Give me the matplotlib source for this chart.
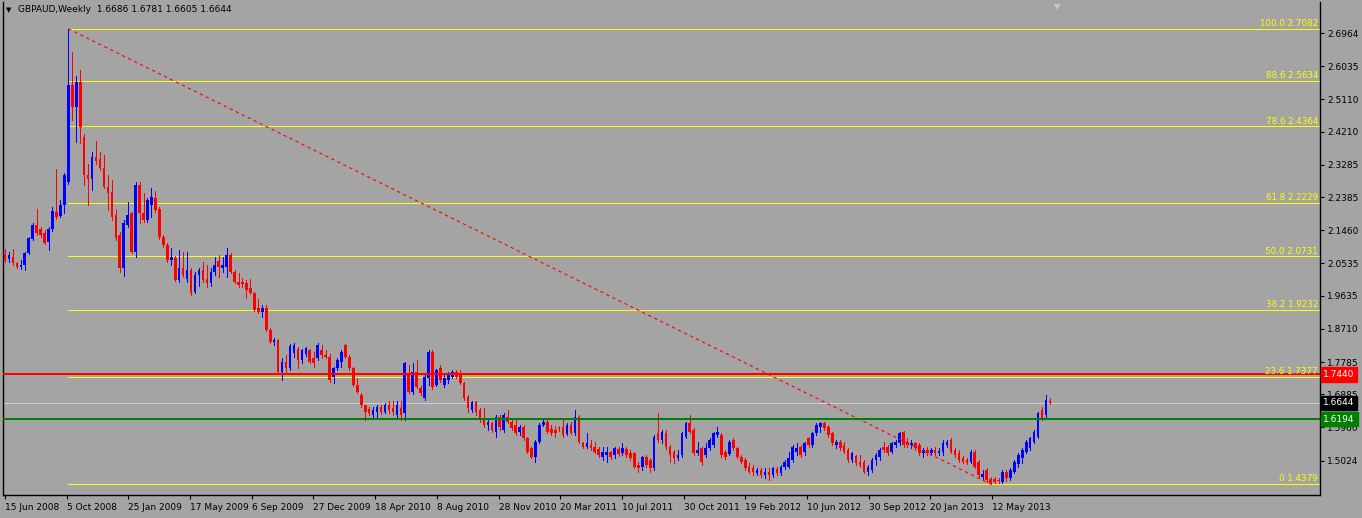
import matplotlib
matplotlib.use("Agg")
import matplotlib.pyplot as plt
import matplotlib.transforms as mtransforms
import numpy as np

# ---------------- data ----------------
title_text = "GBPAUD,Weekly  1.6686 1.6781 1.6605 1.6644"

opens = [2.080, 2.066, 2.071, 2.055, 2.044, 2.049, 2.083, 2.122, 2.161, 2.150,
         2.138, 2.113, 2.150, 2.197, 2.186, 2.217, 2.281, 2.551, 2.490, 2.560,
         2.406, 2.300, 2.290, 2.350, 2.345, 2.320, 2.267, 2.253, 2.189, 2.133,
         2.041, 2.161, 2.194, 2.085, 2.272, 2.194, 2.175, 2.217, 2.236, 2.205,
         2.127, 2.105, 2.063, 2.069, 2.007, 2.041, 2.010, 2.035, 1.974, 2.021,
         2.035, 2.010, 1.999, 2.030, 2.060, 2.041, 2.044, 2.077, 2.030, 2.002,
         2.002, 1.999, 1.985, 1.971, 1.929, 1.918, 1.929, 1.868, 1.834, 1.840,
         1.751, 1.779, 1.762, 1.805, 1.815, 1.784, 1.800, 1.812, 1.790, 1.790,
         1.812, 1.798, 1.793, 1.736, 1.762, 1.779, 1.826, 1.793, 1.762, 1.714,
         1.687, 1.659, 1.648, 1.631, 1.639, 1.653, 1.639, 1.659, 1.650, 1.631,
         1.650, 1.636, 1.748, 1.695, 1.751, 1.706, 1.678, 1.734, 1.806, 1.714,
         1.762, 1.714, 1.728, 1.737, 1.751, 1.748, 1.720, 1.681, 1.645, 1.667,
         1.645, 1.622, 1.603, 1.609, 1.584, 1.625, 1.589, 1.625, 1.611, 1.603,
         1.584, 1.597, 1.567, 1.539, 1.514, 1.555, 1.603, 1.611, 1.592, 1.589,
         1.595, 1.597, 1.578, 1.603, 1.581, 1.625, 1.552, 1.541, 1.547, 1.541,
         1.536, 1.514, 1.519, 1.527, 1.519, 1.536, 1.525, 1.536, 1.525, 1.525,
         1.491, 1.486, 1.514, 1.505, 1.483, 1.581, 1.561, 1.581, 1.541, 1.527,
         1.511, 1.519, 1.569, 1.608, 1.589, 1.525, 1.539, 1.519, 1.539, 1.547,
         1.575, 1.575, 1.527, 1.522, 1.561, 1.539, 1.514, 1.505, 1.486, 1.483,
         1.469, 1.477, 1.463, 1.472, 1.463, 1.480, 1.469, 1.486, 1.486, 1.505,
         1.527, 1.541, 1.527, 1.566, 1.547, 1.581, 1.597, 1.608, 1.597, 1.581,
         1.547, 1.555, 1.547, 1.533, 1.505, 1.516, 1.500, 1.500, 1.472, 1.477,
         1.505, 1.514, 1.541, 1.541, 1.527, 1.547, 1.553, 1.584, 1.555, 1.547,
         1.553, 1.547, 1.525, 1.533, 1.525, 1.533, 1.525, 1.527, 1.547, 1.561,
         1.533, 1.525, 1.511, 1.505, 1.500, 1.527, 1.500, 1.458, 1.477, 1.452,
         1.452, 1.450, 1.444, 1.472, 1.455, 1.472, 1.494, 1.511, 1.527, 1.539,
         1.555, 1.569, 1.645, 1.631, 1.6686]
highs = [2.095, 2.085, 2.094, 2.058, 2.063, 2.086, 2.128, 2.166, 2.205, 2.155,
         2.147, 2.155, 2.211, 2.317, 2.230, 2.306, 2.7082, 2.643, 2.576, 2.593,
         2.415, 2.330, 2.364, 2.395, 2.364, 2.356, 2.300, 2.286, 2.203, 2.140,
         2.175, 2.225, 2.197, 2.281, 2.281, 2.250, 2.236, 2.264, 2.256, 2.210,
         2.133, 2.110, 2.097, 2.075, 2.091, 2.085, 2.085, 2.041, 2.030, 2.041,
         2.058, 2.049, 2.041, 2.071, 2.077, 2.071, 2.097, 2.083, 2.035, 2.027,
         2.013, 2.007, 2.010, 1.974, 1.954, 1.938, 1.938, 1.874, 1.845, 1.843,
         1.790, 1.798, 1.830, 1.832, 1.820, 1.815, 1.820, 1.815, 1.806, 1.832,
         1.826, 1.812, 1.800, 1.765, 1.790, 1.812, 1.829, 1.798, 1.765, 1.734,
         1.692, 1.660, 1.653, 1.653, 1.659, 1.659, 1.664, 1.670, 1.670, 1.670,
         1.670, 1.778, 1.770, 1.776, 1.784, 1.712, 1.748, 1.812, 1.812, 1.760,
         1.770, 1.748, 1.751, 1.756, 1.756, 1.756, 1.723, 1.686, 1.670, 1.670,
         1.650, 1.650, 1.622, 1.611, 1.631, 1.631, 1.636, 1.645, 1.620, 1.620,
         1.603, 1.603, 1.569, 1.541, 1.561, 1.608, 1.617, 1.620, 1.603, 1.600,
         1.600, 1.620, 1.608, 1.610, 1.645, 1.631, 1.555, 1.581, 1.561, 1.555,
         1.541, 1.541, 1.541, 1.530, 1.541, 1.541, 1.553, 1.541, 1.533, 1.527,
         1.500, 1.516, 1.519, 1.511, 1.575, 1.636, 1.589, 1.590, 1.547, 1.533,
         1.533, 1.584, 1.611, 1.631, 1.595, 1.555, 1.541, 1.553, 1.566, 1.584,
         1.597, 1.581, 1.533, 1.561, 1.566, 1.541, 1.519, 1.511, 1.497, 1.491,
         1.483, 1.483, 1.483, 1.483, 1.486, 1.486, 1.491, 1.505, 1.527, 1.547,
         1.553, 1.547, 1.555, 1.569, 1.584, 1.608, 1.611, 1.611, 1.603, 1.584,
         1.561, 1.561, 1.555, 1.539, 1.527, 1.519, 1.519, 1.505, 1.491, 1.511,
         1.525, 1.539, 1.555, 1.547, 1.555, 1.561, 1.584, 1.587, 1.566, 1.561,
         1.555, 1.553, 1.539, 1.541, 1.539, 1.541, 1.539, 1.561, 1.561, 1.566,
         1.539, 1.533, 1.516, 1.511, 1.533, 1.533, 1.505, 1.477, 1.483, 1.458,
         1.458, 1.456, 1.477, 1.477, 1.483, 1.505, 1.525, 1.539, 1.561, 1.569,
         1.589, 1.639, 1.653, 1.686, 1.6781]
lows = [2.058, 2.058, 2.049, 2.041, 2.038, 2.035, 2.080, 2.118, 2.133, 2.127,
        2.108, 2.091, 2.144, 2.177, 2.183, 2.194, 2.275, 2.454, 2.392, 2.390,
        2.272, 2.217, 2.258, 2.330, 2.314, 2.264, 2.203, 2.175, 2.120, 2.030,
        2.018, 2.155, 2.083, 2.071, 2.166, 2.169, 2.170, 2.183, 2.197, 2.122,
        2.100, 2.058, 2.049, 2.004, 2.002, 2.016, 2.002, 1.966, 1.970, 1.990,
        2.002, 1.988, 1.990, 2.021, 2.016, 2.030, 2.016, 2.027, 1.999, 1.988,
        1.988, 1.957, 1.968, 1.921, 1.916, 1.904, 1.866, 1.832, 1.826, 1.746,
        1.728, 1.751, 1.757, 1.793, 1.762, 1.776, 1.795, 1.776, 1.765, 1.785,
        1.790, 1.790, 1.723, 1.720, 1.756, 1.765, 1.790, 1.756, 1.712, 1.692,
        1.653, 1.617, 1.631, 1.623, 1.625, 1.634, 1.636, 1.636, 1.631, 1.625,
        1.617, 1.617, 1.692, 1.690, 1.706, 1.686, 1.672, 1.714, 1.703, 1.712,
        1.723, 1.709, 1.720, 1.734, 1.734, 1.718, 1.672, 1.639, 1.640, 1.631,
        1.612, 1.598, 1.589, 1.584, 1.570, 1.589, 1.584, 1.609, 1.589, 1.575,
        1.575, 1.561, 1.525, 1.511, 1.500, 1.552, 1.600, 1.581, 1.575, 1.570,
        1.586, 1.570, 1.575, 1.578, 1.575, 1.552, 1.539, 1.539, 1.533, 1.525,
        1.514, 1.505, 1.500, 1.508, 1.511, 1.517, 1.519, 1.514, 1.505, 1.483,
        1.472, 1.477, 1.486, 1.472, 1.477, 1.555, 1.552, 1.536, 1.500, 1.497,
        1.505, 1.514, 1.566, 1.581, 1.519, 1.519, 1.491, 1.514, 1.533, 1.541,
        1.569, 1.514, 1.508, 1.519, 1.533, 1.511, 1.497, 1.477, 1.469, 1.463,
        1.463, 1.458, 1.455, 1.449, 1.458, 1.463, 1.463, 1.480, 1.483, 1.500,
        1.519, 1.514, 1.519, 1.541, 1.541, 1.575, 1.584, 1.589, 1.570, 1.547,
        1.539, 1.533, 1.525, 1.500, 1.500, 1.491, 1.486, 1.469, 1.463, 1.472,
        1.491, 1.505, 1.527, 1.519, 1.525, 1.541, 1.547, 1.541, 1.541, 1.539,
        1.533, 1.519, 1.514, 1.519, 1.519, 1.519, 1.519, 1.519, 1.541, 1.525,
        1.514, 1.500, 1.497, 1.494, 1.497, 1.483, 1.458, 1.449, 1.444, 1.4379,
        1.441, 1.440, 1.441, 1.446, 1.449, 1.469, 1.486, 1.497, 1.525, 1.533,
        1.552, 1.566, 1.617, 1.622, 1.6605]
closes = [2.063, 2.077, 2.055, 2.044, 2.050, 2.083, 2.124, 2.161, 2.139, 2.133,
          2.111, 2.150, 2.200, 2.183, 2.217, 2.300, 2.551, 2.490, 2.560, 2.434,
          2.300, 2.290, 2.350, 2.340, 2.320, 2.267, 2.250, 2.183, 2.125, 2.041,
          2.166, 2.189, 2.085, 2.272, 2.194, 2.175, 2.230, 2.239, 2.203, 2.127,
          2.105, 2.063, 2.071, 2.007, 2.041, 2.021, 2.035, 1.971, 2.021, 2.035,
          2.007, 1.999, 2.030, 2.049, 2.044, 2.049, 2.077, 2.030, 2.002, 1.993,
          1.996, 1.979, 1.971, 1.924, 1.918, 1.929, 1.868, 1.834, 1.840, 1.751,
          1.779, 1.762, 1.823, 1.826, 1.784, 1.812, 1.818, 1.779, 1.776, 1.826,
          1.798, 1.793, 1.728, 1.762, 1.784, 1.806, 1.793, 1.762, 1.714, 1.695,
          1.659, 1.639, 1.636, 1.645, 1.653, 1.639, 1.659, 1.645, 1.639, 1.659,
          1.631, 1.776, 1.695, 1.751, 1.709, 1.692, 1.737, 1.806, 1.709, 1.756,
          1.728, 1.734, 1.748, 1.751, 1.737, 1.720, 1.678, 1.650, 1.667, 1.639,
          1.617, 1.603, 1.611, 1.589, 1.625, 1.597, 1.631, 1.611, 1.594, 1.581,
          1.597, 1.567, 1.527, 1.514, 1.555, 1.603, 1.611, 1.584, 1.581, 1.581,
          1.592, 1.575, 1.603, 1.581, 1.625, 1.555, 1.541, 1.552, 1.539, 1.527,
          1.519, 1.527, 1.527, 1.514, 1.539, 1.522, 1.539, 1.519, 1.511, 1.486,
          1.483, 1.514, 1.491, 1.483, 1.569, 1.561, 1.584, 1.541, 1.519, 1.511,
          1.519, 1.581, 1.608, 1.584, 1.525, 1.533, 1.500, 1.539, 1.561, 1.581,
          1.584, 1.519, 1.514, 1.555, 1.539, 1.514, 1.500, 1.483, 1.472, 1.472,
          1.477, 1.463, 1.472, 1.463, 1.483, 1.469, 1.486, 1.500, 1.511, 1.541,
          1.539, 1.519, 1.553, 1.547, 1.581, 1.603, 1.608, 1.595, 1.575, 1.553,
          1.555, 1.539, 1.527, 1.505, 1.525, 1.497, 1.491, 1.472, 1.486, 1.505,
          1.519, 1.533, 1.533, 1.525, 1.553, 1.555, 1.581, 1.547, 1.547, 1.553,
          1.539, 1.525, 1.533, 1.525, 1.533, 1.525, 1.530, 1.553, 1.555, 1.527,
          1.519, 1.505, 1.500, 1.497, 1.527, 1.486, 1.463, 1.466, 1.449, 1.441,
          1.444, 1.446, 1.472, 1.455, 1.477, 1.500, 1.519, 1.533, 1.555, 1.566,
          1.584, 1.636, 1.622, 1.672, 1.6644]

date_labels = ["15 Jun 2008", "5 Oct 2008", "25 Jan 2009", "17 May 2009",
               "6 Sep 2009", "27 Dec 2009", "18 Apr 2010", "8 Aug 2010",
               "28 Nov 2010", "20 Mar 2011", "10 Jul 2011", "30 Oct 2011",
               "19 Feb 2012", "10 Jun 2012", "30 Sep 2012", "20 Jan 2013",
               "12 May 2013"]
weeks_per_label = 16
weeks_span = 271          # weeks from first to last bar

price_ticks = [2.6964, 2.6035, 2.5110, 2.4210, 2.3285, 2.2385, 2.1460,
               2.0535, 1.9635, 1.8710, 1.7785, 1.6885, 1.5960, 1.5024]
fib_ratios = [0.0, 23.6, 38.2, 50.0, 61.8, 78.6, 88.6, 100.0]
resistance_level = 1.7440
support_level = 1.6194

# ---------------- figure ----------------
W, H = 1362, 518
BG = "#a4a4a4"
fig = plt.figure(figsize=(W / 100, H / 100), dpi=100)
fig.patch.set_facecolor(BG)

def px_box(x0, y0, x1, y1):
    return [x0 / W, 1 - y1 / H, (x1 - x0) / W, (y1 - y0) / H]

ax = fig.add_axes(px_box(3, 2, 1320, 495))
ax.set_facecolor(BG)

o = np.array(opens); h = np.array(highs); l = np.array(lows); c = np.array(closes)
n = len(c)
xs = np.arange(n) * weeks_span / (n - 1)

up = c >= o
colors = np.where(up, "#0000ff", "#ff0000")

ONE_PX = 0.72  # points

# wicks
ax.vlines(xs, l, h, colors=colors, linewidth=ONE_PX, zorder=3,
          antialiased=False)
# bodies
body_bottom = np.minimum(o, c)
body_height = np.maximum(np.abs(c - o), 0.002)
ax.bar(xs, body_height, bottom=body_bottom, width=0.68, color=colors,
       linewidth=0, zorder=4, antialiased=False)

# limits (pixel mapping of the reference)
px_per_week = 3.856
ax.set_xlim(-2 / px_per_week, (1320 - 5) / px_per_week)
ax.set_ylim(1.4075, 2.783)

# fibonacci levels
i_hi = int(np.argmax(h)); i_lo = int(np.argmin(l))
hi = h[i_hi]; lo = l[i_lo]
trans_axy = mtransforms.blended_transform_factory(ax.transAxes, ax.transData)
for r in fib_ratios:
    lev = lo + (hi - lo) * r / 100.0
    ax.hlines(lev, xs[i_hi], ax.get_xlim()[1], color="#ffff00",
              linewidth=ONE_PX, zorder=2, antialiased=False)
    lab = ("0" if r == 0 else f"{r:.1f}") + f" {lev:.4f}"
    ax.text(0.9985, lev + 0.002, lab, transform=trans_axy, ha="right",
            va="bottom", color="#ffff00", fontsize=6.3, zorder=6)

# trend line (dashed red) from high to low
ax.plot([xs[i_hi], xs[i_lo]], [hi, lo], color="#ff0000", linewidth=0.8,
        linestyle=(0, (3, 3)), zorder=5)

# horizontal lines
ax.axhline(resistance_level, color="#ff0000", linewidth=1.44, zorder=5)
ax.axhline(support_level, color="#008000", linewidth=1.44, zorder=5)
ax.axhline(c[-1], color="#cfcfcf", linewidth=ONE_PX, zorder=1,
           antialiased=False)

# axes styling
ax.spines["top"].set_visible(False)
for side in ["left", "bottom", "right"]:
    ax.spines[side].set_color("black")
    ax.spines[side].set_linewidth(1.0)

ax.yaxis.tick_right()
ax.set_yticks(price_ticks)
ax.set_yticklabels([f"{v:.4f}" for v in price_ticks])
ax.tick_params(axis="y", length=3, width=0.8, pad=2, labelsize=6.5,
               colors="black", direction="out")

tick_pos = [k * weeks_per_label for k in range(len(date_labels))]
ax.set_xticks(tick_pos)
ax.set_xticklabels(date_labels)
ax.tick_params(axis="x", length=3, width=0.8, pad=3, labelsize=6.5,
               colors="black", direction="out")
for lbl in ax.get_xticklabels():
    lbl.set_ha("left")

# price label boxes on the right axis
def price_box(val, face):
    ax.text(1.0025, val, f"{val:.4f}", transform=trans_axy, ha="left",
            va="center", color="white", fontsize=6.5, zorder=10,
            clip_on=False,
            bbox=dict(boxstyle="square,pad=0.3", facecolor=face,
                      edgecolor=face))

price_box(resistance_level, "#ff0000")
price_box(c[-1], "#000000")
price_box(support_level, "#008000")

# title
fig.text(6 / W, 1 - 10 / H, "\u25bc", fontsize=5, color="black",
         va="center", ha="left")
fig.text(18 / W, 1 - 10 / H, title_text, fontsize=6.5, color="black",
         va="center", ha="left")
# chart shift marker
fig.text(1057 / W, 1 - 7 / H, "\u25bc", fontsize=6, color="#c8c8c8",
         va="center", ha="center")

fig.savefig("out.png", dpi=100, facecolor=BG)
